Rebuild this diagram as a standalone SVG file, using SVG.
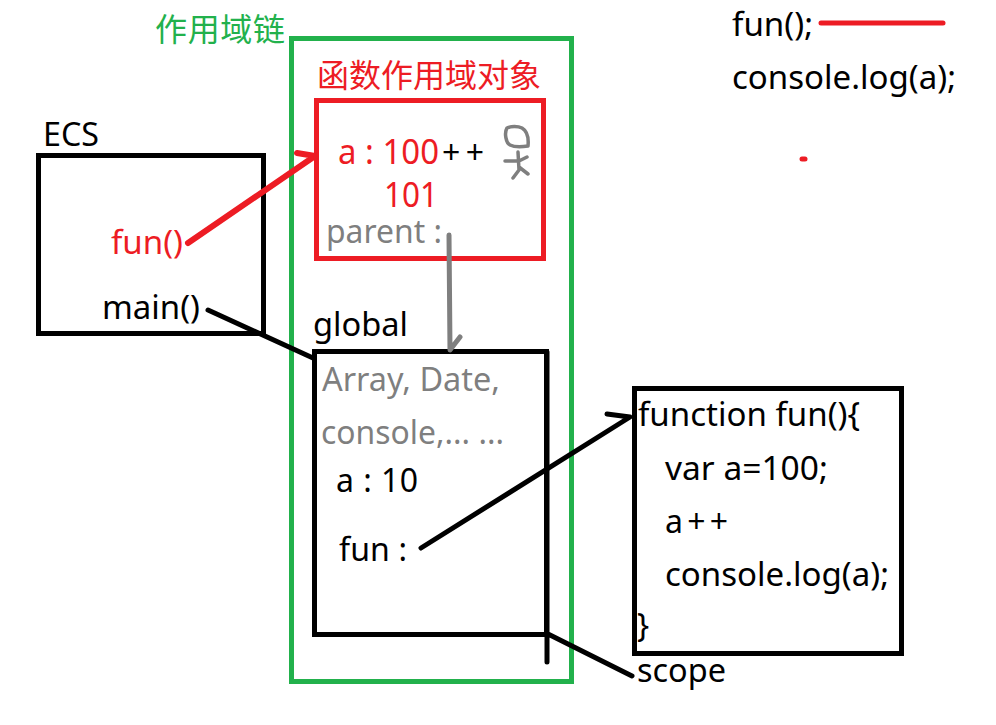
<svg xmlns="http://www.w3.org/2000/svg" width="996" height="725" viewBox="0 0 996 725">
<style>
text{font-family:"Noto Sans","Open Sans","Noto Sans CJK SC",sans-serif;font-size:32px;fill:#000}
.cjk{font-family:"Noto Sans CJK SC","Noto Sans",sans-serif;font-size:32px}
.big{font-size:35px}
.r{fill:#ed1c24}.g{fill:#7f7f7f}.gr{fill:#22b14c}
.box{fill:none;stroke:#000;stroke-width:5}
.ln{fill:none;stroke:#000;stroke-width:5;stroke-linecap:round;stroke-linejoin:round}
.rl{stroke:#ed1c24;stroke-width:6}.gl{stroke:#7f7f7f}
</style>
<rect width="996" height="725" fill="#fff"/>
<g id="ecs"><rect class="box" x="38.500" y="155.500" width="225" height="178"/><text x="43" y="146" textLength="56" lengthAdjust="spacingAndGlyphs">ECS</text><text class="r" x="111" y="254" textLength="72" lengthAdjust="spacingAndGlyphs" style="font-size:33px">fun()</text><text x="102" y="319" textLength="98" lengthAdjust="spacingAndGlyphs">main()</text></g>
<g id="chain"><rect fill="none" stroke="#22b14c" stroke-width="5" x="291.500" y="38.500" width="280" height="643"/><text class="cjk gr" x="155" y="41" textLength="130">作用域链</text></g>
<g id="scope-object"><rect fill="none" stroke="#ed1c24" stroke-width="5" x="316.500" y="100.500" width="227" height="158"/><text class="cjk r" x="317" y="87" textLength="224">函数作用域对象</text><text class="r big" x="338" y="164" textLength="101" lengthAdjust="spacingAndGlyphs">a : 100</text><text x="442" y="164" textLength="42">++</text><text class="r big" x="384" y="207" textLength="54" lengthAdjust="spacingAndGlyphs">101</text><text class="g" x="326" y="243" textLength="116" lengthAdjust="spacingAndGlyphs">parent :</text></g>
<g id="global"><rect class="box" x="314.500" y="351.500" width="232" height="283"/><text x="313" y="336" textLength="95" lengthAdjust="spacingAndGlyphs">global</text><text class="g" x="322" y="391" textLength="178" lengthAdjust="spacingAndGlyphs">Array, Date,</text><text class="g" x="321" y="444" textLength="183" lengthAdjust="spacingAndGlyphs">console,... ...</text><text x="336" y="492" textLength="82" lengthAdjust="spacing">a : 10</text><text x="339" y="561" textLength="68" lengthAdjust="spacing">fun :</text></g>
<g id="function"><rect class="box" x="634.500" y="388.500" width="267" height="265"/><text x="638" y="426" textLength="222" lengthAdjust="spacingAndGlyphs">function fun(){</text><text x="665" y="480" textLength="163" lengthAdjust="spacingAndGlyphs">var a=100;</text><text x="665" y="533" textLength="63" lengthAdjust="spacing">a++</text><text x="665" y="586" textLength="224" lengthAdjust="spacingAndGlyphs">console.log(a);</text><text x="637" y="637">}</text></g>
<g id="scope"><text x="637" y="682" textLength="89" lengthAdjust="spacingAndGlyphs">scope</text></g>
<g id="code"><text x="732" y="36" textLength="81" lengthAdjust="spacingAndGlyphs">fun();</text><text x="732" y="89" textLength="224" lengthAdjust="spacingAndGlyphs">console.log(a);</text></g>
<g id="connectors">
<path class="ln rl" d="M188 243L315 156L297 153"/>
<path class="ln" d="M208 310L313 358"/>
<path class="ln gl" d="M449 235L450 350L460 337"/>
<path class="ln" d="M421 548L630 417L607 414"/>
<path class="ln" d="M547 352V662M548 634L632 676"/>
<path class="ln rl" style="stroke-width:5" d="M821 23H943"/>
<path class="ln rl" style="stroke-width:5" d="M802 159H805"/>
<path fill="none" stroke="#7f7f7f" stroke-width="3.500" stroke-linecap="round" stroke-linejoin="round" d="M507 128C511 126 518 126 522 128C527 131 529 136 528 146C522 147 514 147 510 145C506 143 504 133 507 128ZM518 152L519 170L513 178M505 161H519L527 157M519 167L528 174"/>
</g>
</svg>
